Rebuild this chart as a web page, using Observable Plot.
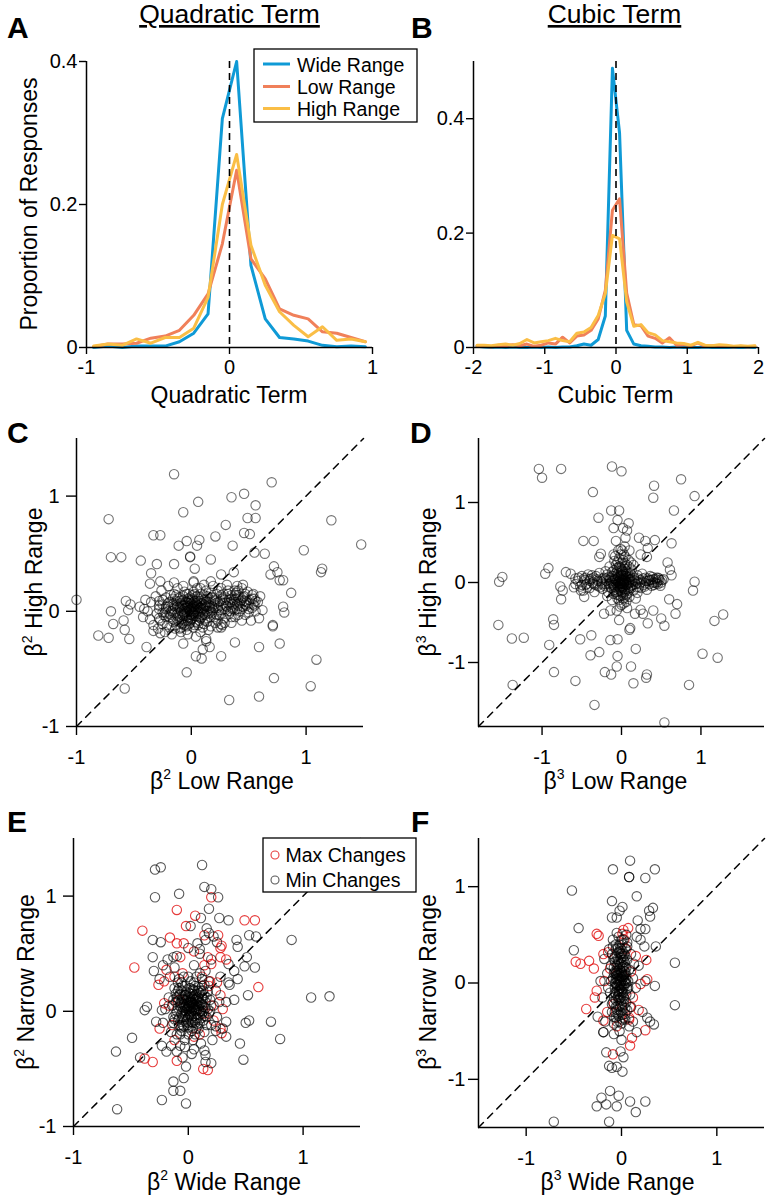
<!DOCTYPE html>
<html>
<head>
<meta charset="utf-8">
<script src="https://cdn.jsdelivr.net/npm/d3@7"></script>
<script src="https://cdn.jsdelivr.net/npm/@observablehq/plot@0.6"></script>
<style>
  html, body { margin: 0; padding: 0; background: #fff; }
  #fig { position: relative; width: 766px; height: 1198px; background: #fff; overflow: hidden; font-family: 'Liberation Sans', Arial, sans-serif; }
  .panel { position: absolute; }
  .panel svg { background: transparent !important; overflow: visible; }
  #overlay { position: absolute; left: 0; top: 0; pointer-events: none; }
  #overlay text { font-family: 'Liberation Sans', Arial, sans-serif; fill: #000; }
</style>
</head>
<body>
<div id="fig">
  <div class="panel" id="pA" style="left:0px;top:0px"></div>
  <div class="panel" id="pB" style="left:383px;top:0px"></div>
  <div class="panel" id="pC" style="left:0px;top:400px"></div>
  <div class="panel" id="pD" style="left:383px;top:400px"></div>
  <div class="panel" id="pE" style="left:0px;top:800px"></div>
  <div class="panel" id="pF" style="left:383px;top:800px"></div>
  <svg id="overlay" width="766" height="1198" xmlns="http://www.w3.org/2000/svg">
    <g font-weight="bold" font-size="30">
      <text x="7" y="38">A</text>
      <text x="411" y="38">B</text>
      <text x="7" y="443">C</text>
      <text x="410" y="443">D</text>
      <text x="7" y="832">E</text>
      <text x="411" y="832">F</text>
    </g>
    <g font-size="26.5" text-anchor="middle" style="text-decoration: underline;">
      <text x="229.5" y="23">Quadratic Term</text>
      <text x="614.5" y="23">Cubic Term</text>
    </g>
    <g font-size="23" text-anchor="middle">
      <text x="229" y="403">Quadratic Term</text>
      <text x="615.5" y="403">Cubic Term</text>
      <text x="222" y="789">β<tspan font-size="14" dy="-10">2</tspan><tspan dy="10"> Low Range</tspan></text>
      <text x="615.5" y="789">β<tspan font-size="14" dy="-10">3</tspan><tspan dy="10"> Low Range</tspan></text>
      <text x="224" y="1190">β<tspan font-size="14" dy="-10">2</tspan><tspan dy="10"> Wide Range</tspan></text>
      <text x="617.5" y="1190">β<tspan font-size="14" dy="-10">3</tspan><tspan dy="10"> Wide Range</tspan></text>
    </g>
    <g font-size="23" text-anchor="middle">
      <text x="36.5" y="204" transform="rotate(-90 36.5 204)">Proportion of Responses</text>
      <text x="42" y="582" transform="rotate(-90 42 582)">β<tspan font-size="14" dy="-10">2</tspan><tspan dy="10"> High Range</tspan></text>
      <text x="436" y="582" transform="rotate(-90 436 582)">β<tspan font-size="14" dy="-10">3</tspan><tspan dy="10"> High Range</tspan></text>
      <text x="34" y="982" transform="rotate(-90 34 982)">β<tspan font-size="14" dy="-10">2</tspan><tspan dy="10"> Narrow Range</tspan></text>
      <text x="436" y="982" transform="rotate(-90 436 982)">β<tspan font-size="14" dy="-10">3</tspan><tspan dy="10"> Narrow Range</tspan></text>
    </g>
    <g id="legA">
      <rect x="254" y="49" width="163" height="73" fill="#fff" stroke="#000" stroke-width="1.3"></rect>
    </g>
    <g id="legE">
      <rect x="263" y="838" width="153" height="54" fill="#fff" stroke="#000" stroke-width="1.3"></rect>
    </g>
  </svg>
</div>
<script>
// ---------------- DATA ----------------
const binsA = [-0.95,-0.85,-0.75,-0.65,-0.55,-0.45,-0.35,-0.25,-0.15,-0.05,0.05,0.15,0.25,0.35,0.45,0.55,0.65,0.75,0.85,0.95];
const wideA = [0,0.002,0,0.002,0.002,0.002,0.008,0.02,0.047,0.32,0.40,0.115,0.04,0.014,0.012,0.009,0.003,0.001,0.002,0.001];
const lowA  = [0.001,0.005,0.005,0.006,0.013,0.016,0.024,0.045,0.075,0.145,0.248,0.124,0.096,0.054,0.045,0.04,0.022,0.02,0.014,0.008];
const highA = [0.002,0.005,0.003,0.012,0.006,0.014,0.014,0.027,0.07,0.20,0.27,0.143,0.087,0.05,0.031,0.015,0.029,0.010,0.012,0.008];

const binsB = [-1.95,-1.85,-1.75,-1.65,-1.55,-1.45,-1.35,-1.25,-1.15,-1.05,-0.95,-0.85,-0.75,-0.65,-0.55,-0.45,-0.35,-0.25,-0.15,-0.05,
               0.05,0.15,0.25,0.35,0.45,0.55,0.65,0.75,0.85,0.95,1.05,1.15,1.25,1.35,1.45,1.55,1.65,1.75,1.85,1.95];
const wideB = [0.002,0.001,0,0.001,0,0.001,0,0,0.001,0,0.001,0,0.001,0.001,0.003,0.006,0.004,0.014,0.055,0.488,
               0.375,0.03,0.006,0.003,0.002,0.001,0.001,0,0.001,0,0,0,0.001,0,0,0,0,0,0,0];
const lowB  = [0.003,0.002,0.001,0.004,0.003,0.005,0.003,0.006,0.002,0.004,0.008,0.006,0.018,0.008,0.02,0.022,0.03,0.05,0.10,0.24,
               0.26,0.095,0.04,0.038,0.02,0.016,0.008,0.017,0.004,0.005,0.003,0.008,0.002,0.003,0.002,0.002,0.001,0.002,0.001,0.002];
const highB = [0.004,0.004,0.003,0.005,0.006,0.004,0.007,0.014,0.008,0.01,0.012,0.016,0.012,0.01,0.025,0.027,0.035,0.056,0.094,0.196,
               0.19,0.08,0.037,0.04,0.026,0.022,0.012,0.01,0.008,0.007,0.004,0.009,0.004,0.003,0.005,0.004,0.002,0.003,0.002,0.003];

const seriesNames = ["Wide Range", "Low Range", "High Range"];
const seriesColors = ["#0F9AD6", "#F0805A", "#FABE46"];

// Panel C
const betaC = [
[-0.15,1.19],[0.70,1.12],[0.46,1.02],[0.35,0.99],[0.06,0.95],[0.56,0.92],[-0.07,0.86],[0.49,0.81],[0.56,0.81],[1.22,0.79],
[-0.72,0.80],[0.30,0.75],[0.46,0.68],[0.51,0.67],[-0.33,0.66],[-0.27,0.66],[0.21,0.65],[0.07,0.62],[-0.04,0.61],[-0.11,0.57],
[0.05,0.57],[0.36,0.57],[1.48,0.58],[0.98,0.53],[0.55,0.51],[0.64,0.50],[-0.70,0.47],[-0.61,0.47],[-0.01,0.47],[-0.01,0.475],
[-0.44,0.44],[-0.30,0.41],[0.17,0.45],[-0.15,0.41],[0.03,0.37],[0.72,0.39],[1.14,0.37],[1.13,0.34],[-0.35,0.33],[0.26,0.32],
[0.37,0.34],[0.75,0.34],[0.69,0.32],[-0.36,0.24],[-0.27,0.26],[-0.15,0.25],[0.02,0.26],[0.17,0.26],[0.77,0.27],[0.80,0.27],
[0.87,0.16],[-1.00,0.10],[-0.57,0.09],[-0.53,0.06],[-0.41,0.02],[-0.70,0.00],[-0.55,0.01],[-0.59,-0.08],[-0.68,-0.11],[-0.58,-0.16],
[-0.81,-0.21],[-0.72,-0.23],[-0.54,-0.24],[-0.39,-0.31],[-0.27,-0.19],[-0.33,-0.17],[0.80,0.04],[0.81,-0.01],[0.59,-0.06],[0.71,-0.13],
[0.71,-0.12],[0.59,-0.31],[0.77,-0.28],[0.38,-0.27],[0.16,-0.31],[0.26,-0.39],[0.04,-0.39],[0.09,-0.41],[0.10,-0.33],[-0.07,-0.28],
[-0.04,-0.53],[1.09,-0.42],[0.72,-0.58],[1.04,-0.65],[-0.58,-0.67],[0.33,-0.77],[0.59,-0.74],[0.13,-0.24],[0.13,-0.26],[0.26,-0.14],
[0.26,-0.11],[0.54,0.06],[0.55,0.11],[0.54,0.15],[0.41,0.18],[0.45,0.23],[0.38,0.14],
[-0.30,-0.02],[-0.28,0.05],[-0.27,-0.08],[-0.25,0.10],[-0.24,-0.03],[-0.22,0.02],[-0.21,-0.12],[-0.20,0.07],[-0.19,-0.05],[-0.18,0.14],
[-0.17,0.00],[-0.16,-0.09],[-0.15,0.05],[-0.14,-0.15],[-0.13,0.09],[-0.12,-0.02],[-0.11,0.03],[-0.10,-0.07],[-0.10,0.12],[-0.09,0.00],
[-0.08,-0.11],[-0.08,0.06],[-0.07,-0.04],[-0.06,0.02],[-0.06,0.17],[-0.05,-0.08],[-0.05,0.08],[-0.04,-0.01],[-0.04,-0.16],[-0.03,0.04],
[-0.03,0.11],[-0.02,-0.05],[-0.02,0.01],[-0.01,0.07],[-0.01,-0.10],[0.00,0.00],[0.00,0.03],[0.00,-0.03],[0.01,0.14],[0.01,-0.06],
[0.02,0.05],[0.02,-0.01],[0.03,0.09],[0.03,-0.12],[0.04,0.02],[0.04,-0.04],[0.05,0.06],[0.05,0.20],[0.06,-0.02],[0.06,0.11],
[0.07,-0.08],[0.07,0.03],[0.08,0.00],[0.08,0.15],[0.09,-0.05],[0.09,0.07],[0.10,0.02],[0.10,-0.14],[0.11,0.10],[0.12,-0.03],
[0.12,0.05],[0.13,0.18],[0.14,0.00],[0.14,-0.09],[0.15,0.08],[0.16,0.03],[0.17,-0.05],[0.18,0.12],[0.19,0.01],[0.20,0.06],
[0.21,-0.10],[0.22,0.15],[0.23,0.03],[0.24,-0.03],[0.25,0.09],[0.26,0.20],[0.27,0.01],[0.28,0.07],[0.29,-0.06],[0.30,0.12],
[0.31,0.04],[0.32,0.18],[0.33,-0.02],[0.34,0.08],[0.35,0.14],[0.36,0.02],[0.37,0.10],[0.38,-0.05],[0.39,0.16],[0.40,0.06],
[0.41,0.12],[0.42,0.00],[0.43,0.09],[0.44,0.20],[0.45,0.04],[0.46,0.13],[0.47,-0.03],[0.48,0.08],[0.49,0.17],[0.50,0.02],
[0.51,0.10],[0.52,-0.08],[0.53,0.14],[0.55,0.05],[-0.35,0.08],[-0.33,-0.12],[-0.31,0.13],[-0.29,-0.15],[-0.26,0.18],[-0.23,-0.18],
[-0.20,0.22],[-0.17,-0.20],[-0.12,0.20],[-0.09,-0.18],[-0.07,0.22],[-0.03,-0.20],[0.02,0.25],[0.04,-0.22],[0.08,-0.18],[0.11,0.23],
[0.15,-0.16],[0.19,0.22],[0.23,-0.14],[0.27,-0.12],[0.31,0.23],[0.35,-0.10],[0.40,0.22],[0.44,-0.08],[-0.45,0.04],[-0.42,-0.05],
[-0.40,0.10],[-0.38,0.00],[-0.36,-0.07],[0.58,0.08],[0.60,0.13],[0.62,0.01],[-0.02,0.09],[0.01,0.04],[-0.06,-0.02],[0.03,0.00],
[-0.01,-0.03],[0.06,0.05],[-0.04,0.05],[0.00,0.10],[-0.10,0.04],[0.13,0.04],[-0.13,-0.06],[0.18,-0.01],[0.20,0.10],[-0.15,0.15]
];
const coreC = [
[-0.28,-0.06],[-0.28,0.02],[-0.28,0.09],[-0.25,-0.11],[-0.25,-0.01],[-0.25,0.06],[-0.22,-0.05],[-0.22,0.04],[-0.22,0.12],
[-0.19,-0.14],[-0.19,-0.02],[-0.19,0.08],[-0.16,-0.07],[-0.16,0.02],[-0.16,0.11],[-0.13,-0.12],[-0.13,-0.03],[-0.13,0.06],[-0.13,0.14],
[-0.10,-0.15],[-0.10,-0.05],[-0.10,0.02],[-0.10,0.09],[-0.07,-0.10],[-0.07,-0.01],[-0.07,0.05],[-0.07,0.13],
[-0.04,-0.13],[-0.04,-0.06],[-0.04,0.03],[-0.04,0.08],[-0.04,0.15],[-0.01,-0.08],[-0.01,0.00],[-0.01,0.05],[-0.01,0.12],
[0.02,-0.14],[0.02,-0.04],[0.02,0.02],[0.02,0.08],[0.02,0.17],[0.05,-0.10],[0.05,-0.01],[0.05,0.04],[0.05,0.13],
[0.08,-0.06],[0.08,0.03],[0.08,0.09],[0.08,0.20],[0.11,-0.11],[0.11,-0.02],[0.11,0.06],[0.11,0.14],
[0.14,-0.06],[0.14,0.04],[0.14,0.11],[0.17,-0.13],[0.17,0.00],[0.17,0.07],[0.17,0.16],[0.20,-0.05],[0.20,0.03],[0.20,0.12],
[0.23,-0.08],[0.23,0.08],[0.23,0.18],[0.26,-0.02],[0.26,0.05],[0.26,0.14],[0.29,-0.10],[0.29,0.02],[0.29,0.10],
[0.32,0.00],[0.32,0.07],[0.32,0.15],[0.35,-0.05],[0.35,0.04],[0.35,0.11],[0.38,0.01],[0.38,0.08],[0.38,0.18],
[0.41,-0.03],[0.41,0.05],[0.41,0.14],[0.44,0.02],[0.44,0.10],[0.47,0.06],[0.47,0.15],[0.50,-0.01],[0.50,0.07],
[0.53,0.03],[0.53,0.11],[0.56,0.00],[0.56,0.09],
[-0.14,-0.01],[-0.12,0.04],[-0.11,-0.09],[-0.09,0.07],[-0.08,-0.03],[-0.07,0.10],[-0.06,-0.12],[-0.05,0.03],[-0.04,-0.04],[-0.03,0.07],
[-0.02,-0.11],[-0.01,0.02],[0.00,-0.07],[0.00,0.06],[0.01,0.11],[0.02,-0.02],[0.03,0.04],[0.04,-0.09],[0.05,0.09],[0.06,0.00],
[0.07,-0.05],[0.08,0.06],[0.09,0.11],[0.10,-0.03],[0.11,0.03],[0.12,-0.08],[0.13,0.08],[0.14,0.13],[0.15,-0.02],[0.16,0.05],
[-0.16,0.06],[-0.18,-0.03],[-0.20,0.04],[-0.23,-0.01],[-0.12,0.11],[-0.09,-0.14],[0.03,0.15],[0.06,-0.12],[-0.02,0.15],[0.09,0.01],
[-0.06,0.05],[0.01,-0.01],[0.04,0.07],[-0.03,-0.08],[0.18,0.04],[0.21,0.09],[0.24,0.01],[0.27,0.11],[0.30,0.05],[0.33,0.10],
[0.36,0.06],[0.39,0.11],[0.42,0.07],[0.45,0.12],[0.48,0.05],[0.22,-0.03],[0.28,0.15],[0.34,0.00],[0.40,0.02],[0.46,0.09]
];

// Panel D
const betaD = [
[-1.04,1.42],[-1.00,1.31],[-0.76,1.42],[-0.12,1.45],[0.00,1.39],[0.75,1.29],[0.41,1.21],[-0.36,1.13],[0.40,1.06],[0.92,1.08],
[-0.13,0.90],[-0.03,0.90],[0.66,0.90],[-0.29,0.81],[-0.05,0.78],[0.09,0.74],[-0.10,0.68],[0.02,0.68],[0.07,0.65],[0.05,0.56],
[0.22,0.56],[-0.48,0.52],[-0.35,0.52],[-0.07,0.52],[0.30,0.52],[0.42,0.53],[0.63,0.49],[-0.01,0.42],[0.10,0.40],[0.33,0.43],
[-0.26,0.36],[-0.10,0.35],[-0.28,0.32],[0.24,0.35],[0.32,0.32],[0.58,0.25],[0.61,0.16],[0.63,0.09],[-0.92,0.18],[-0.96,0.11],
[-1.50,0.07],[-1.54,0.01],[-0.70,0.13],[-0.64,0.11],[-0.77,-0.05],[-0.74,-0.10],[-0.76,-0.21],[-0.47,-0.18],[-0.51,-0.10],[0.92,0.01],
[0.90,-0.10],[0.60,-0.21],[0.70,-0.27],[0.68,-0.39],[1.17,-0.48],[1.28,-0.40],[0.50,-0.45],[0.54,-0.54],[0.33,-0.51],[0.27,-0.39],
[0.24,-0.34],[0.40,-0.35],[0.17,-0.39],[-1.55,-0.53],[-0.86,-0.46],[-0.85,-0.53],[-1.38,-0.70],[-1.23,-0.69],[-0.52,-0.71],[-0.38,-0.66],
[-0.22,-0.39],[-0.14,-0.35],[-0.03,-0.47],[0.10,-0.59],[0.11,-0.57],[-0.14,-0.72],[-0.05,-0.71],[-0.91,-0.78],[-0.39,-0.91],[-0.28,-0.87],
[-0.05,-0.92],[0.18,-0.83],[1.02,-0.89],[1.21,-0.94],[-0.85,-1.12],[-0.21,-1.12],[-0.13,-1.15],[-0.06,-1.05],[0.12,-1.05],[0.32,-1.15],
[0.31,-1.19],[-0.58,-1.23],[0.15,-1.26],[0.85,-1.28],[-1.37,-1.28],[-0.34,-1.53],[0.54,-1.75],
[-0.55,0.02],[-0.52,-0.05],[-0.50,0.08],[-0.48,-0.10],[-0.46,0.03],[-0.44,-0.02],[-0.42,0.10],[-0.40,-0.07],[-0.38,0.05],[-0.36,0.00],
[-0.34,-0.12],[-0.32,0.08],[-0.30,-0.04],[-0.28,0.12],[-0.26,0.02],[-0.24,-0.08],[-0.22,0.06],[-0.20,-0.02],[-0.18,0.10],[-0.17,-0.12],
[-0.15,0.03],[-0.14,-0.05],[-0.12,0.08],[-0.11,-0.01],[-0.10,0.15],[-0.09,-0.09],[-0.08,0.04],[-0.07,0.22],[-0.06,-0.15],[-0.05,0.01],
[-0.05,0.10],[-0.04,-0.05],[-0.03,0.30],[-0.03,-0.22],[-0.02,0.06],[-0.02,-0.02],[-0.01,0.18],[-0.01,-0.10],[0.00,0.00],[0.00,0.03],
[0.00,-0.04],[0.00,0.25],[0.00,-0.28],[0.01,0.09],[0.01,-0.07],[0.02,0.02],[0.02,0.14],[0.02,-0.16],[0.03,-0.01],[0.03,0.35],
[0.04,0.05],[0.04,-0.12],[0.05,0.20],[0.05,-0.03],[0.06,0.08],[0.06,-0.24],[0.07,0.00],[0.08,0.12],[0.08,-0.08],[0.09,0.28],
[0.10,0.03],[0.10,-0.18],[0.11,0.07],[0.12,-0.04],[0.13,0.16],[0.14,0.01],[0.15,-0.10],[0.16,0.06],[0.18,-0.02],[0.20,0.09],
[0.22,-0.06],[0.24,0.03],[0.26,0.11],[0.28,-0.03],[0.30,0.06],[0.32,-0.09],[0.34,0.02],[0.36,0.08],[0.38,-0.04],[0.40,0.04],
[0.42,0.00],[0.44,0.06],[0.46,-0.02],[0.48,0.03],[0.50,0.00],[-0.04,0.40],[0.04,0.45],[-0.08,0.33],[0.07,-0.32],[-0.06,-0.35],
[0.12,0.25],[-0.12,-0.22],[-0.15,0.20],[0.15,0.22],[0.18,-0.20],[-0.18,-0.17],[-0.60,-0.06],[-0.58,0.05],[0.53,0.04],[0.46,0.06],
[-0.09,0.05],[0.09,-0.01],[-0.13,0.00],[0.13,0.09],[-0.01,0.12],[0.01,-0.13],[-0.35,0.06],[0.25,-0.07],[-0.25,-0.02],[0.33,0.05],
[-0.45,0.06],[-0.20,0.14],[0.20,-0.13],[-0.10,-0.14]
];
const coreD = [
[-0.58,-0.02],[-0.54,0.06],[-0.50,-0.03],[-0.47,0.05],[-0.43,-0.06],[-0.40,0.02],[-0.37,0.09],[-0.33,-0.03],[-0.31,0.04],[-0.27,-0.06],
[-0.24,0.05],[-0.21,-0.04],[-0.19,0.02],[-0.16,0.07],[-0.13,-0.07],[0.17,0.02],[0.19,-0.06],[0.21,0.05],[0.23,-0.01],[0.27,0.05],
[0.29,-0.05],[0.31,0.02],[0.35,-0.02],[0.37,0.03],[0.39,0.07],[0.41,-0.03],[0.43,0.04],[0.45,0.01],[0.47,0.05],[0.49,-0.04],[0.51,0.03],
[-0.02,-0.30],[0.03,-0.26],[-0.05,-0.20],[0.04,-0.19],[-0.01,-0.17],[0.07,-0.14],[-0.07,-0.12],[0.00,-0.12],[0.05,-0.10],[-0.04,-0.08],
[0.02,-0.06],[-0.06,-0.03],[0.06,-0.02],[-0.02,0.00],[0.03,0.01],[-0.07,0.03],[0.01,0.04],[0.08,0.05],[-0.04,0.07],[0.03,0.08],
[-0.01,0.10],[0.06,0.11],[-0.06,0.13],[0.01,0.15],[0.04,0.17],[-0.03,0.20],[0.07,0.22],[-0.05,0.26],[0.02,0.28],[0.05,0.32],
[-0.01,0.35],[0.01,0.40],[-0.09,0.27],[0.10,0.19],[-0.10,-0.05],[0.10,-0.06],[0.11,0.12],[-0.12,0.13],
[-0.12,0.02],[-0.10,-0.03],[-0.09,0.08],[-0.08,-0.06],[-0.07,0.00],[-0.06,0.05],[-0.05,-0.11],[-0.04,0.12],[-0.03,0.02],[-0.02,-0.07],
[-0.01,0.05],[0.00,-0.01],[0.00,0.08],[0.01,-0.04],[0.02,0.11],[0.03,0.04],[0.04,-0.08],[0.05,0.01],[0.06,0.14],[0.07,-0.03],
[0.08,0.07],[0.09,-0.10],[0.10,0.00],[0.11,0.04],[0.12,-0.07],[-0.14,0.06],[-0.16,-0.02],[0.14,-0.03],[0.16,0.03],[-0.02,0.20],
[0.02,-0.20],[-0.04,-0.16],[0.04,0.24],[0.00,0.16],[-0.06,0.18],[0.06,-0.16],[-0.25,0.00],[-0.30,0.02],[0.25,0.01],[0.30,-0.01],
[-0.20,0.05],[0.20,0.00],[-0.35,-0.02],[0.35,0.03],[-0.40,0.04],[0.40,0.00],[0.44,-0.01],[-0.45,-0.03],[-0.03,-0.01],[0.03,-0.02],
[0.01,0.02],[-0.01,-0.02]
];

// Panel E
const maxE = [
[-0.10,0.88],[0.06,0.83],[0.20,0.99],[-0.40,0.70],[-0.47,0.38],[0.49,0.79],[0.58,0.79],[-0.02,0.74],[-0.16,0.64],[-0.10,0.59],
[-0.04,0.59],[0.14,0.66],[0.26,0.66],[0.29,0.57],[0.28,0.47],[0.33,0.45],[0.20,0.41],[0.17,0.47],[-0.07,0.47],[-0.19,0.36],
[-0.26,0.23],[-0.21,0.26],[0.61,0.21],[0.19,0.26],[0.28,0.14],[0.30,0.02],[-0.25,-0.15],[0.29,-0.19],[-0.10,-0.43],[-0.38,-0.41],
[-0.31,-0.44],[0.13,-0.50],[0.17,-0.51],[-0.12,-0.25],[-0.21,0.07],[0.14,-0.02],
[-0.08,0.10],[0.12,0.30],[0.18,0.22],[-0.14,-0.12],[0.20,0.05],[0.05,-0.22],[-0.05,0.33],[0.25,0.25],[0.22,-0.08],[-0.17,0.05],
[0.10,-0.20],[0.28,-0.15],[0.14,0.40],[-0.12,0.30],[0.28,0.55],[0.05,0.52]
];
const minE = [
[0.12,1.27],[-0.29,1.23],[-0.24,1.25],[0.14,1.08],[0.20,1.06],[-0.08,1.02],[-0.29,0.99],[0.26,0.99],[0.18,0.89],[0.11,0.81],
[0.27,0.81],[0.35,0.79],[0.02,0.74],[0.16,0.72],[0.18,0.68],[0.22,0.65],[-0.31,0.62],[-0.24,0.60],[0.53,0.66],[0.59,0.65],
[0.90,0.62],[0.42,0.62],[0.43,0.56],[0.08,0.59],[0.10,0.54],[-0.31,0.47],[-0.13,0.47],[0.51,0.47],[0.58,0.38],[0.49,0.39],
[-0.22,0.40],[0.35,0.41],[0.43,0.28],[0.36,0.23],[0.52,0.14],[1.07,0.12],[1.23,0.13],[-0.36,0.04],[-0.38,0.01],[-0.28,-0.09],
[-0.23,0.01],[0.33,0.08],[0.33,-0.09],[0.50,-0.10],[0.53,-0.08],[0.72,-0.09],[0.80,-0.24],[0.45,-0.28],[0.24,-0.13],[0.24,-0.17],
[-0.49,-0.23],[-0.63,-0.35],[-0.42,-0.40],[-0.23,-0.30],[-0.19,-0.35],[-0.10,-0.35],[-0.03,-0.31],[0.03,-0.37],[0.14,-0.34],[0.15,-0.44],
[0.48,-0.42],[-0.02,-0.48],[-0.04,-0.58],[-0.13,-0.61],[-0.13,-0.69],[-0.07,-0.69],[-0.23,-0.77],[-0.02,-0.80],[-0.62,-0.85],
[-0.14,0.05],[-0.13,-0.10],[-0.12,0.20],[-0.11,-0.02],[-0.10,0.12],[-0.10,-0.20],[-0.09,0.03],[-0.08,0.28],[-0.08,-0.06],[-0.07,0.15],
[-0.06,-0.14],[-0.06,0.08],[-0.05,0.00],[-0.05,0.22],[-0.04,-0.08],[-0.04,0.10],[-0.03,0.04],[-0.03,-0.25],[-0.02,0.17],[-0.02,-0.03],
[-0.01,0.07],[-0.01,-0.12],[0.00,0.02],[0.00,0.30],[0.00,-0.05],[0.01,0.12],[0.01,0.05],[0.02,-0.01],[0.02,0.20],[0.03,0.08],
[0.03,-0.09],[0.04,0.03],[0.04,0.15],[0.05,-0.04],[0.05,0.25],[0.06,0.10],[0.06,0.00],[0.07,-0.15],[0.07,0.06],[0.08,0.18],
[0.08,-0.06],[0.09,0.02],[0.09,0.12],[0.10,0.33],[0.10,-0.10],[0.11,0.07],[0.12,-0.02],[0.12,0.22],[0.13,0.04],[0.14,-0.18],
[0.14,0.14],[0.15,0.08],[0.16,-0.05],[0.17,0.02],[0.18,0.26],[0.19,0.10],[0.20,-0.12],[-0.16,0.30],[-0.15,-0.18],[0.22,0.05],
[0.24,0.18],[0.21,-0.25],[-0.12,0.38],[0.05,0.40],[0.15,0.35],[-0.17,0.12],[0.00,-0.20],[-0.07,-0.30],[0.11,-0.28],[0.03,0.00],
[-0.02,0.05],[0.06,0.04],[0.01,-0.03],[-0.05,0.13],[0.08,0.09],[0.02,0.10],[-0.03,-0.05],[0.10,0.00],[-0.09,0.18],[0.13,0.18],
[-0.11,0.08],[0.16,0.12],[0.04,-0.15],[-0.06,0.25],[0.07,0.30],[0.18,-0.02],[-0.13,-0.05],[0.25,-0.05],[0.27,0.08],[-0.20,0.02],
[0.30,-0.15],[-0.22,-0.10],[0.28,0.30],[-0.18,0.45],[0.20,0.45],[0.10,0.50],[-0.10,0.48],[0.00,0.55],[0.25,0.60],[0.15,0.62],
[-0.05,-0.40],[0.05,-0.33],[0.15,-0.38],[-0.15,-0.30],[0.20,-0.45],[0.35,0.25],[0.40,0.10],[0.33,-0.22],[-0.25,0.28],[-0.30,0.35],
[0.40,0.35]
];
const coreE = [
[-0.10,0.00],[-0.09,0.09],[-0.08,-0.12],[-0.07,0.04],[-0.06,0.18],[-0.05,-0.05],[-0.04,0.06],[-0.03,0.14],[-0.02,-0.09],[-0.01,0.02],
[0.00,0.09],[0.00,-0.14],[0.01,0.20],[0.02,0.03],[0.03,-0.06],[0.03,0.13],[0.04,0.07],[0.05,0.01],[0.05,0.18],[0.06,-0.10],
[0.07,0.11],[0.08,0.03],[0.08,-0.02],[0.09,0.21],[0.10,0.07],[0.11,-0.06],[0.12,0.12],[0.13,0.00],[0.14,0.23],[0.15,0.03],
[0.16,-0.12],[0.17,0.17],[-0.11,0.15],[-0.12,-0.07],[-0.09,0.25],[-0.07,-0.20],[0.02,0.26],[0.06,-0.20],[-0.04,0.30],[0.12,0.28],
[0.19,0.00],[-0.13,0.10],[0.04,-0.25],[0.09,-0.15],[-0.02,0.10],[0.01,0.00],[0.04,0.11],[0.07,0.15],[-0.05,-0.12],[0.10,0.16],
[0.13,-0.08],[-0.08,0.20],[0.00,0.05],[0.02,0.15],
[-0.07,0.07],[-0.06,-0.02],[-0.05,0.11],[-0.04,-0.13],[-0.03,0.01],[-0.02,0.14],[-0.01,-0.07],[0.00,0.04],[0.01,0.16],[0.02,-0.04],
[0.03,0.06],[0.04,-0.10],[0.05,0.13],[0.06,0.02],[0.07,-0.06],[0.08,0.12],[0.09,0.05],[0.10,-0.03],[0.11,0.18],[0.12,0.06],
[-0.08,0.14],[-0.09,-0.08],[0.13,0.11],[0.14,-0.04],[-0.03,0.22],[0.06,0.22],[0.00,-0.10],[0.02,0.08],[-0.05,0.04],[0.07,0.01],
[0.04,0.19],[-0.01,0.11],[0.09,0.09],[-0.06,-0.17],[0.03,-0.17],[0.11,0.00],[-0.02,0.00],[0.05,0.06],[0.01,0.08],[0.08,-0.11]
];

// Panel F
const maxF = [
[-0.26,0.51],[-0.24,0.49],[-0.48,0.22],[-0.43,0.20],[-0.34,0.23],[-0.29,0.15],[-0.19,0.30],[-0.14,0.32],[0.02,0.55],[0.07,0.57],
[0.01,0.51],[0.26,0.24],[0.27,0.04],[0.20,-0.01],[-0.28,-0.15],[-0.37,-0.27],[-0.19,-0.39],[0.08,-0.36],[0.11,-0.57],[0.09,-0.65],
[0.25,-0.49],[-0.09,-0.74],[0.09,-0.25],[-0.26,-0.08],
[-0.12,0.15],[0.10,0.12],[-0.08,-0.22],[0.12,-0.15],[0.05,0.35],[-0.15,-0.30],[0.15,0.28],[0.08,-0.38],[-0.18,0.02],[0.18,-0.28],
[0.03,0.45],[-0.05,-0.45]
];
const minF = [
[0.09,1.27],[-0.09,1.18],[0.35,1.18],[0.08,1.10],[0.25,1.09],[-0.52,0.96],[0.16,0.90],[-0.10,0.85],[-0.02,0.75],[0.01,0.79],
[0.29,0.75],[0.33,0.78],[0.30,0.69],[-0.10,0.68],[-0.05,0.68],[-0.45,0.57],[0.17,0.65],[0.20,0.56],[0.25,0.56],[0.16,0.48],
[-0.50,0.34],[0.24,0.38],[0.36,0.38],[0.56,0.21],[0.56,-0.23],[0.35,-0.03],[0.25,0.02],[0.27,-0.36],[0.30,-0.40],[0.34,-0.43],
[0.16,-0.51],[-0.19,-0.51],[-0.08,-0.53],[0.00,-0.59],[-0.16,-0.72],[-0.01,-0.71],[0.02,-0.77],[-0.13,-0.86],[-0.10,-0.88],[-0.05,-0.87],
[0.01,-0.92],[-0.12,-1.12],[-0.03,-1.17],[-0.21,-1.19],[-0.26,-1.28],[-0.16,-1.26],[-0.05,-1.28],[0.09,-1.23],[0.25,-1.23],[0.15,-1.34],
[-0.71,-1.44],[-0.13,-1.44],[-0.19,-0.51],[0.08,1.10],
[-0.10,0.30],[-0.09,-0.20],[-0.08,0.10],[-0.08,-0.35],[-0.07,0.22],[-0.07,-0.05],[-0.06,0.40],[-0.06,-0.12],[-0.05,0.05],[-0.05,-0.28],
[-0.04,0.15],[-0.04,-0.02],[-0.03,0.32],[-0.03,-0.18],[-0.02,0.08],[-0.02,-0.40],[-0.01,0.00],[-0.01,0.20],[0.00,-0.08],[0.00,0.12],
[0.00,0.45],[0.01,-0.25],[0.01,0.04],[0.02,0.28],[0.02,-0.14],[0.03,0.17],[0.03,-0.03],[0.04,0.36],[0.04,-0.32],[0.05,0.08],
[0.05,-0.20],[0.06,0.24],[0.06,-0.06],[0.07,0.02],[0.08,-0.45],[0.08,0.14],[-0.11,0.02],[-0.12,-0.10],[-0.11,0.18],[0.09,-0.12],
[-0.03,0.05],[-0.02,-0.06],[0.00,0.02],[-0.05,0.12],[0.02,-0.02],[-0.01,-0.15],[0.01,0.10],[-0.04,0.25],[0.03,0.22],[-0.06,-0.25],
[0.04,-0.38],[-0.09,0.38],[0.06,0.42],[-0.08,-0.42],[-0.10,-0.30],[0.10,0.30],[0.12,0.05],[-0.15,0.10],[-0.14,-0.05],[0.10,-0.25],
[-0.20,-0.15],[0.15,-0.05],[0.18,0.18],[-0.18,0.25],[0.05,0.50],[-0.05,0.52],[-0.02,-0.50],[0.12,-0.40],[0.20,0.45],[-0.22,0.02],
[0.22,-0.30],[-0.25,-0.35],[0.00,0.30],[-0.07,0.00],[0.05,0.00],[-0.01,0.36],[0.01,-0.33],[-0.13,0.35],[0.13,0.20],[-0.17,-0.40]
];
const coreF = [
[-0.09,0.05],[-0.08,-0.15],[-0.07,0.27],[-0.06,0.00],[-0.06,0.35],[-0.05,-0.08],[-0.05,0.18],[-0.04,-0.32],[-0.04,0.08],[-0.03,-0.12],
[-0.03,0.22],[-0.02,0.02],[-0.02,0.40],[-0.02,-0.24],[-0.01,0.13],[-0.01,-0.05],[0.00,0.26],[0.00,-0.18],[0.00,0.06],[0.01,0.33],
[0.01,-0.10],[0.02,0.18],[0.02,-0.36],[0.03,0.08],[0.03,-0.22],[0.04,0.28],[0.04,0.00],[0.05,-0.12],[0.05,0.16],[0.06,0.38],
[-0.08,0.16],[-0.10,-0.22],[-0.07,-0.30],[0.06,-0.28],[-0.03,0.48],[0.02,0.45],[-0.05,-0.40],[0.00,-0.42],[-0.09,0.45],[0.07,-0.05],
[-0.04,0.02],[-0.01,0.30],[0.01,-0.28],[-0.06,0.10],[0.03,0.12],[-0.02,-0.02],
[-0.07,0.12],[-0.06,-0.18],[-0.05,0.28],[-0.05,-0.02],[-0.04,0.20],[-0.04,-0.24],[-0.03,0.10],[-0.03,-0.08],[-0.02,0.33],[-0.02,0.14],
[-0.02,-0.16],[-0.01,0.06],[-0.01,-0.30],[0.00,0.22],[0.00,-0.02],[0.00,-0.22],[0.01,0.16],[0.01,0.40],[0.02,0.06],[0.02,-0.10],
[0.03,0.30],[0.03,-0.16],[0.04,0.12],[0.04,-0.26],[-0.06,0.04],[-0.07,-0.10],[0.05,0.04],[-0.08,0.25],[-0.04,0.36],[0.01,-0.38],
[-0.03,-0.34],[-0.05,0.08],[0.00,0.10],[-0.02,-0.12],[0.02,0.24],[-0.06,-0.36],[0.03,0.02],[-0.01,0.26],[-0.04,-0.14],[0.01,-0.06]
];

const legendE = ["Max Changes", "Min Changes"];
const legendEColors = ["#E21B1B", "#222"];

const ticksA = {x: [-1, 0, 1], y: [0, 0.2, 0.4], xDom: [-1, 1], yDom: [0, 0.4]};
const ticksB = {x: [-2, -1, 0, 1, 2], y: [0, 0.2, 0.4], xDom: [-2, 2], yDom: [0, 0.5]};
const ticksC = {x: [-1, 0, 1], y: [-1, 0, 1], xDom: [-1, 1.5], yDom: [-1, 1.5]};
const ticksD = {x: [-1, 0, 1], y: [-1, 0, 1], xDom: [-1.8, 1.8], yDom: [-1.8, 1.8]};
const ticksE = {x: [-1, 0, 1], y: [-1, 0, 1], xDom: [-1, 1.5], yDom: [-1, 1.5]};
const ticksF = {x: [-1, 0, 1], y: [-1, 0, 1], xDom: [-1.5, 1.5], yDom: [-1.5, 1.5]};

// ---------------- DRAWING ----------------
const fmt = d => String(d);
const font = "'Liberation Sans', Arial, sans-serif";

function axes(t, o) {
  return [
    Plot.axisX({ticks: t.x, tickFormat: fmt, tickSize: o.xs, tickPadding: o.xp, label: null, strokeWidth: 1.4, fontSize: 20}),
    Plot.axisY({ticks: t.y, tickFormat: fmt, tickSize: o.ys, tickPadding: o.yp, label: null, strokeWidth: 1.4, fontSize: 20}),
    Plot.ruleX([t.xDom[0]], {strokeWidth: 1.5}),
    Plot.ruleY([t.yDom[0]], {strokeWidth: 1.5})
  ];
}

function base(t, m, marks) {
  return Plot.plot({
    width: 383, height: m.h,
    marginLeft: m.l, marginRight: m.r, marginTop: m.t, marginBottom: m.b,
    x: {domain: t.xDom}, y: {domain: t.yDom},
    style: {fontFamily: font, fontSize: "20px", color: "#000", background: "transparent", overflow: "visible"},
    marks
  });
}

function histPanel(id, t, m, bins, vals) {
  const marks = [
    ...vals.map((v, i) => Plot.line(v, {x: bins, y: v, stroke: seriesColors[i], strokeWidth: 3, strokeLinejoin: "round"})),
    Plot.ruleX([0], {strokeDasharray: "7,5", strokeWidth: 1.6}),
    ...axes(t, {xs: 7, xp: 5, ys: 7, yp: 2})
  ];
  document.getElementById(id).appendChild(base(t, m, marks));
}

function scatterPanel(id, t, m, groups, yp) {
  const diag = [t.xDom[0], t.xDom[1]];
  const marks = [
    Plot.line(diag, {x: d => d, y: d => d, strokeDasharray: "7,6", strokeWidth: 1.5}),
    ...groups.map(g => Plot.dot(g.data, {x: d => d[0], y: d => d[1], r: 4.7, stroke: g.color, strokeOpacity: g.op, strokeWidth: 1.1, fill: "none"})),
    ...axes(t, {xs: 9, xp: 14, ys: 10, yp: yp})
  ];
  document.getElementById(id).appendChild(base(t, m, marks));
}

histPanel("pA", ticksA, {h: 400, l: 86, r: 11, t: 61, b: 53}, binsA, [wideA, lowA, highA]);
histPanel("pB", ticksB, {h: 400, l: 90, r: 8, t: 61, b: 53}, binsB, [wideB, lowB, highB]);
scatterPanel("pC", ticksC, {h: 400, l: 76, r: 20, t: 38, b: 74}, [{data: betaC.concat(coreC), color: "#000", op: 0.55}], 7);
scatterPanel("pD", ticksD, {h: 400, l: 95, r: 2, t: 38, b: 74}, [{data: betaD.concat(coreD), color: "#000", op: 0.55}], 3);
scatterPanel("pE", ticksE, {h: 398, l: 73, r: 23, t: 38, b: 72}, [{data: maxE, color: legendEColors[0], op: 0.85}, {data: minE.concat(coreE), color: "#000", op: 0.65}], 7);
scatterPanel("pF", ticksF, {h: 398, l: 95, r: 2, t: 38, b: 71}, [{data: maxF, color: legendEColors[0], op: 0.85}, {data: minF.concat(coreF), color: "#000", op: 0.65}], 3);

// ---------------- LEGENDS ----------------
const NS = "http://www.w3.org/2000/svg";
function el(parent, tag, attrs, text) {
  const e = document.createElementNS(NS, tag);
  for (const k in attrs) e.setAttribute(k, attrs[k]);
  if (text) e.textContent = text;
  parent.appendChild(e);
  return e;
}
const legA = document.getElementById("legA");
const rowsA = [64, 86.5, 108.5];
seriesNames.forEach((name, i) => {
  el(legA, "line", {x1: 263, x2: 290, y1: rowsA[i], y2: rowsA[i], stroke: seriesColors[i], "stroke-width": 3});
  el(legA, "text", {x: 297, y: rowsA[i] + 7.5, "font-size": 19.5}, name);
});
const legE = document.getElementById("legE");
const rowsE = [855, 880];
legendE.forEach((name, i) => {
  el(legE, "circle", {cx: 275, cy: rowsE[i], r: 4, fill: "none", stroke: legendEColors[i], "stroke-opacity": i === 0 ? 0.85 : 0.75, "stroke-width": 1.1});
  el(legE, "text", {x: 285.5, y: rowsE[i] + 7, "font-size": 19.5}, name);
});
</script>
</body>
</html>
